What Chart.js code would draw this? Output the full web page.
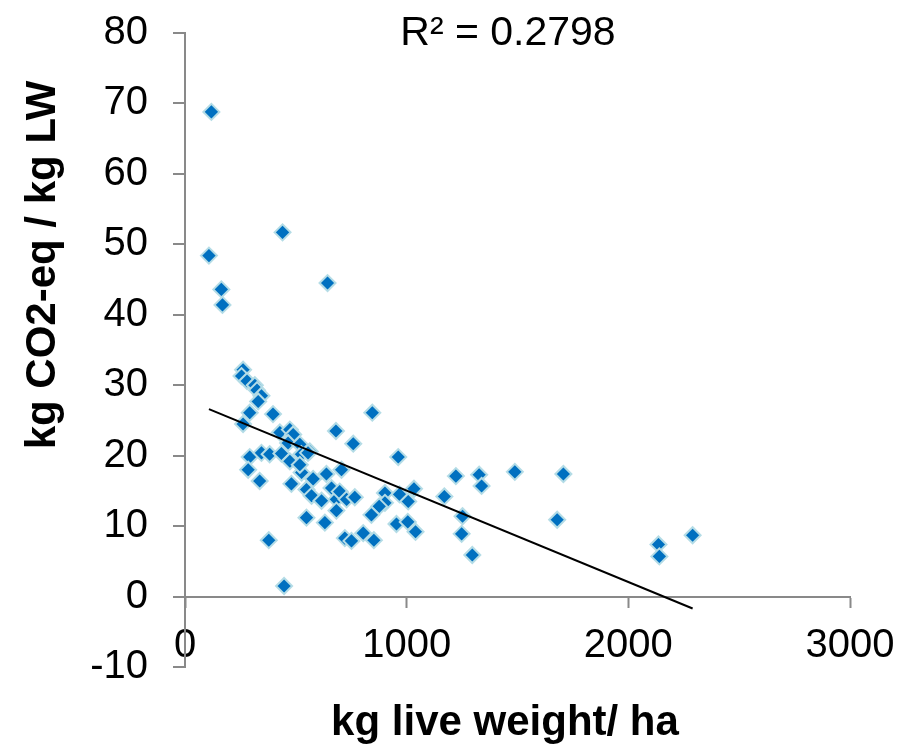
<!DOCTYPE html>
<html><head><meta charset="utf-8">
<script src="https://cdn.jsdelivr.net/npm/chart.js@4.4.1/dist/chart.umd.min.js"></script>
<style>html,body{margin:0;padding:0;background:#fff}#wrap{width:904px;height:745px;position:relative}</style>
</head><body><div id="wrap"><canvas id="c"></canvas></div>
<script>
// kg live weight per ha (x) vs kg CO2-eq per kg LW (y)
const xValues = [119,108,440,164,169,643,262,255,280,315,325,345,330,292,397,262,428,473,488,681,759,465,518,563,292,345,382,435,473,525,555,706,285,337,526,518,480,578,638,548,571,616,661,683,698,729,766,683,548,631,378,447,721,751,804,852,845,962,902,902,876,841,968,1007,1033,954,1005,1040,1170,1222,1327,1338,1488,1252,1248,1296,1707,1679,2136,2140,2290];
const yValues = [68.8,48.4,51.7,43.6,41.4,44.5,32.2,31.3,30.6,30.0,29.3,28.5,27.7,26.1,25.9,24.5,23.3,23.7,23.0,23.5,21.7,21.8,21.6,20.6,19.8,20.4,20.2,20.3,19.2,20.2,20.4,18.0,18.0,16.4,17.6,18.7,16.0,16.7,17.4,15.2,14.3,13.6,15.4,13.8,14.9,13.8,14.1,12.2,11.2,10.5,8.0,1.5,8.3,7.9,9.0,8.0,26.1,19.8,14.7,13.3,12.8,11.6,14.5,13.5,15.3,10.3,10.6,9.2,14.2,17.1,17.3,15.7,17.7,11.4,8.9,5.9,17.4,10.9,7.4,5.7,8.7];
// linear trendline end points
const trendX = [108, 2290];
const trendY = [26.6, -1.7];
const xTicks = [0, 1000, 2000, 3000];
const yTicks = [-10, 0, 10, 20, 30, 40, 50, 60, 70, 80];
const xTitle = 'kg live weight/ ha';
const yTitle = 'kg CO2-eq / kg LW';
const r2Label = 'R\u00B2 = 0.2798';
const r2Anchor = [1457, 78.3];

const FONT = '"Liberation Sans", Arial, sans-serif';
const AXIS = '#898989';

const scatterData = xValues.map((x, i) => ({x, y: yValues[i]}));
const trendData = trendX.map((x, i) => ({x, y: trendY[i]}));

const noPad = s => { s.paddingTop = 0; s.paddingBottom = 0; s.paddingLeft = 0; s.paddingRight = 0; };

const textPlugin = {
  id: 'texts',
  afterDraw(chart) {
    const {ctx, scales} = chart;
    ctx.save();
    ctx.fillStyle = '#000';
    ctx.textAlign = 'center';
    ctx.textBaseline = 'alphabetic';
    ctx.font = '41px ' + FONT;
    ctx.fillText(r2Label, scales.x.getPixelForValue(r2Anchor[0]), scales.y.getPixelForValue(r2Anchor[1]));
    ctx.font = 'bold 42px ' + FONT;
    ctx.fillText(xTitle, 505, 735);
    ctx.translate(55, 265);
    ctx.rotate(-Math.PI / 2);
    ctx.fillText(yTitle, 0, 0);
    ctx.restore();
  }
};

new Chart(document.getElementById('c'), {
  type: 'scatter',
  data: {
    datasets: [
      {
        type: 'line',
        label: 'Linear trend',
        data: trendData,
        borderColor: '#000',
        borderWidth: 2,
        pointRadius: 0,
        fill: false,
        order: 0
      },
      {
        label: 'Farms',
        data: scatterData,
        pointStyle: 'rectRot',
        pointRadius: 8,
        pointHoverRadius: 8,
        backgroundColor: '#0070C0',
        borderColor: '#B4DCE6',
        borderWidth: 2,
        order: 1
      }
    ]
  },
  options: {
    responsive: true,
    maintainAspectRatio: false,
    animation: false,
    layout: {padding: {left: 0, top: 33, right: 54, bottom: 78}},
    plugins: {legend: {display: false}, tooltip: {enabled: false}},
    scales: {
      x: {
        type: 'linear',
        position: {y: 0},
        min: 0, max: 3000,
        afterBuildTicks: s => { s.ticks = xTicks.map(v => ({value: v})); },
        afterFit: noPad,
        grid: {drawOnChartArea: false, drawTicks: true, tickLength: 10, tickColor: AXIS, tickWidth: 2},
        border: {display: true, color: AXIS, width: 2},
        ticks: {color: '#000', padding: 15, maxRotation: 0, callback: v => String(v), font: {family: FONT, size: 40, lineHeight: 1.2}}
      },
      y: {
        type: 'linear',
        position: 'left',
        min: -10, max: 80,
        afterBuildTicks: s => { s.ticks = yTicks.map(v => ({value: v})); },
        afterFit: s => { s.width = 185; noPad(s); },
        grid: {
          drawOnChartArea: true, drawTicks: true, tickLength: 12,
          color: c => (c.tick && c.tick.value === 0) ? AXIS : 'rgba(0,0,0,0)',
          lineWidth: 2, tickColor: AXIS, tickWidth: 2
        },
        border: {display: true, color: AXIS, width: 2},
        ticks: {color: '#000', padding: 25, callback: v => String(v), font: {family: FONT, size: 40, lineHeight: 1.2}}
      }
    }
  },
  plugins: [textPlugin]
});
</script>
</body></html>
